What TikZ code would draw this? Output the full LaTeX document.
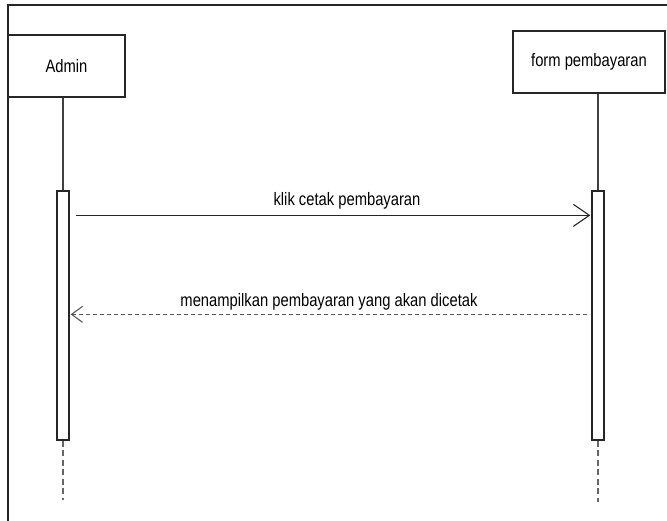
\documentclass[tikz,border=0pt]{standalone}
\usepackage{fontspec}
\setmainfont{Liberation Sans}[FakeStretch=0.82]
\usetikzlibrary{arrows.meta}

\begin{document}
\begin{tikzpicture}[x=1pt,y=-1pt,
  actor/.style={draw=black!85,line width=1.3pt,rectangle,minimum height=62pt,inner sep=0pt,font=\fontsize{18}{21}\selectfont},
  activ/.style={draw=black!85,line width=1.3pt,rectangle,fill=white,minimum width=12pt,minimum height=249pt,inner sep=0pt},
  life/.style={draw=black!75,line width=1.1pt},
  lifeend/.style={draw=black!60,line width=1.3pt,dash pattern=on 6pt off 3.5pt},
  call/.style={draw=black!85,line width=1.3pt,-{Straight Barb[length=16pt,width=22pt,line width=1.1pt]}},
  reply/.style={draw=black!65,line width=1.4pt,dash pattern=on 4pt off 3pt,-{Straight Barb[length=11pt,width=16pt,line width=1.1pt]}},
  lbl/.style={font=\fontsize{18}{21}\selectfont,inner sep=2pt}]
\useasboundingbox (0,0) rectangle (667,520);
\draw[line width=2pt,black!85] (8,521) -- (8,5) -- (668,5);
\node[actor,minimum width=117pt] (admin) at (66.5,66) {Admin};
\node[actor,minimum width=152pt] (form) at (589,62) {form pembayaran};
\node[activ] (adminbar) at (63,315.5) {};
\node[activ] (formbar) at (598,315.5) {};
\coordinate (adminend) at (63,500);
\coordinate (formend) at (598,502);
\draw[life] (admin.south -| adminbar.north) -- (adminbar.north);
\draw[life] (form.south -| formbar.north) -- (formbar.north);
\draw[lifeend] (adminbar.south) -- (adminend);
\draw[lifeend] (formbar.south) -- (formend);
\draw[call] ([xshift=6pt,yshift=-25pt]adminbar.north east) -- ([xshift=-1pt,yshift=-25pt]formbar.north west)
  node[lbl,midway,above,xshift=14pt,yshift=3pt] {klik cetak pembayaran};
\draw[reply] ([xshift=-4pt,yshift=-124pt]formbar.north west) -- ([xshift=1pt,yshift=-124pt]adminbar.north east)
  node[lbl,midway,above,yshift=1pt] {menampilkan pembayaran yang akan dicetak};
\end{tikzpicture}
\end{document}
